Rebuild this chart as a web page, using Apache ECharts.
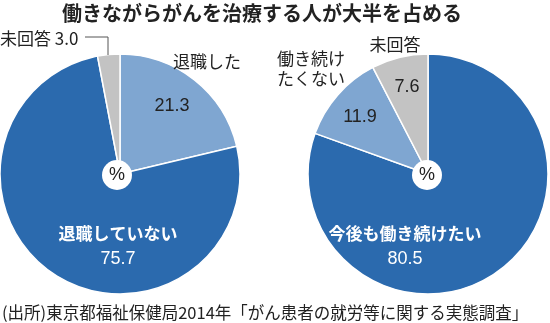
<!DOCTYPE html>
<html><head><meta charset="utf-8">
<script src="https://cdn.jsdelivr.net/npm/echarts@6/dist/echarts.min.js"></script>
<style>html,body{margin:0;padding:0;background:#fff}#c{width:550px;height:323px}</style>
</head><body><div id="c"></div>
<script>
const title = '働きながらがんを治療する人が大半を占める';
const source = '(出所)東京都福祉保健局2014年「がん患者の就労等に関する実態調査」';
const leftNames = ['退職した', '退職していない', '未回答'];
const leftValues = [21.3, 75.7, 3.0];
const rightNames = ['今後も働き続けたい', '働き続けたくない', '未回答'];
const rightValues = [80.5, 11.9, 7.6];

const DARK = '#2b6aae', LIGHT = '#7fa6d1', GRAY = '#c3c3c3';
const leftColors = [LIGHT, DARK, GRAY];
const rightColors = [DARK, LIGHT, GRAY];
const FF = '"Noto Sans CJK JP", "Noto Sans", sans-serif';
const NF = '"Liberation Sans", Arial, sans-serif';

function pieData(names, vals, cols) {
  return vals.map((v, i) => ({ name: names[i], value: v, itemStyle: { color: cols[i] } }));
}
function txt(x, y, text, opt) {
  return Object.assign({ type: 'text', z: 100, style: Object.assign({ x, y, text, align: 'center', verticalAlign: 'middle', fill: '#222', font: '17px ' + FF }, opt || {}) });
}
const f1 = v => v.toFixed(1);

const chart = echarts.init(document.getElementById('c'));
chart.setOption({
  animation: false,
  series: [
    { type: 'pie', center: [120, 174], radius: [0, 120], startAngle: 90, clockwise: true,
      label: { show: false }, labelLine: { show: false }, silent: true,
      itemStyle: { borderColor: '#fff', borderWidth: 1.5 },
      data: pieData(leftNames, leftValues, leftColors) },
    { type: 'pie', center: [428, 174], radius: [0, 120], startAngle: 90, clockwise: true,
      label: { show: false }, labelLine: { show: false }, silent: true,
      itemStyle: { borderColor: '#fff', borderWidth: 1.5 },
      data: pieData(rightNames, rightValues, rightColors) }
  ],
  graphic: [
    txt(262, 13, title, { font: 'bold 20px ' + FF }),
    // left pie
    txt(0, 39, leftNames[2] + ' ' + f1(leftValues[2]), { align: 'left', font: '17px ' + FF }),
    { type: 'polyline', z: 100, shape: { points: [[85, 37], [108, 37], [108, 55]] }, style: { stroke: '#555', lineWidth: 1, fill: null } },
    txt(207, 62, leftNames[0]),
    txt(172, 106, f1(leftValues[0]), { font: '18px ' + NF }),
    txt(118, 234, leftNames[1], { fill: '#fff', font: 'bold 17px ' + FF }),
    txt(118, 259, f1(leftValues[1]), { fill: '#fff', font: '18px ' + NF }),
    { type: 'circle', z: 90, shape: { cx: 117, cy: 175, r: 15 }, style: { fill: '#fff' } },
    txt(117, 175, '%', { font: '18px ' + NF }),
    // right pie
    txt(395, 45, rightNames[2]),
    txt(277, 59, '働き続け', { align: 'left' }),
    txt(277, 79, 'たくない', { align: 'left' }),
    txt(407, 87, f1(rightValues[2]), { font: '18px ' + NF }),
    txt(360, 117, f1(rightValues[1]), { font: '18px ' + NF }),
    txt(405, 234, rightNames[0], { fill: '#fff', font: 'bold 17px ' + FF }),
    txt(405, 259, f1(rightValues[0]), { fill: '#fff', font: '18px ' + NF }),
    { type: 'circle', z: 90, shape: { cx: 427, cy: 175, r: 15 }, style: { fill: '#fff' } },
    txt(427, 175, '%', { font: '18px ' + NF }),
    // source
    txt(2, 313, source, { align: 'left', font: '16.5px ' + FF })
  ]
});
</script></body></html>
